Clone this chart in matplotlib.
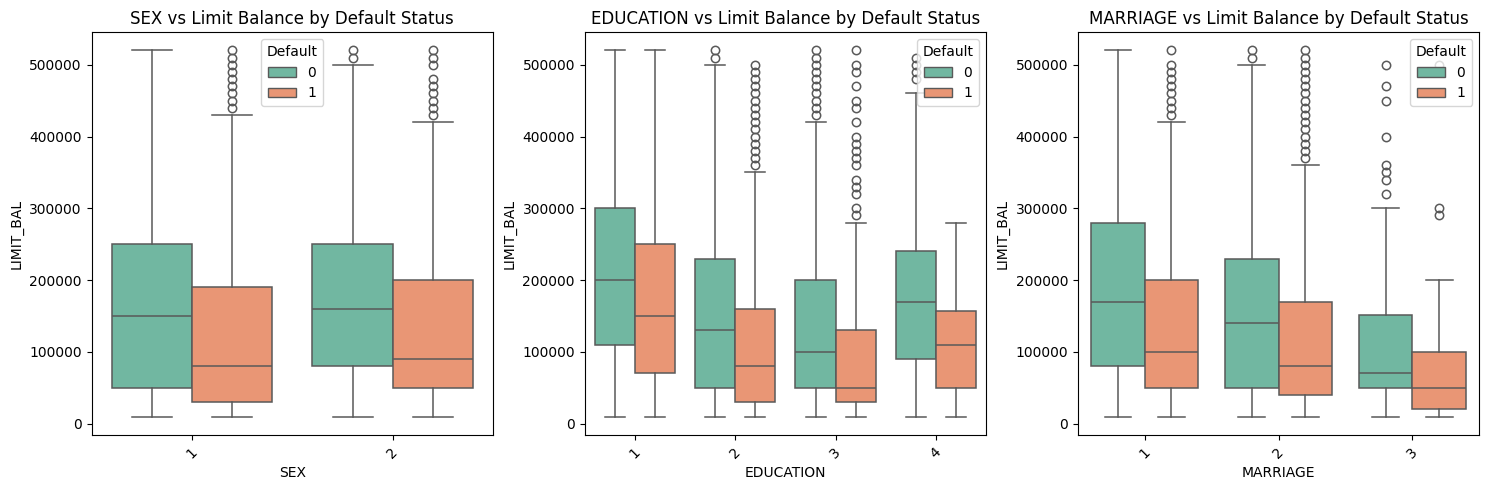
import matplotlib
matplotlib.use("Agg")
import matplotlib.pyplot as plt
from matplotlib.patches import Patch

# box stats per feature: one row per (category, default) = q1, median, q3, whisker low, whisker high
sex_cats = ['1', '2']
sex_d0 = [(50000, 150000, 250000, 10000, 520000), (80000, 160000, 250000, 10000, 500000)]
sex_d1 = [(30000, 80000, 190000, 10000, 430000), (50000, 90000, 200000, 10000, 420000)]
sex_fl0 = [[], [510000, 520000]]
sex_fl1 = [[440000, 450000, 460000, 470000, 480000, 490000, 500000, 510000, 520000],
           [430000, 440000, 450000, 460000, 470000, 480000, 500000, 510000, 520000]]

edu_cats = ['1', '2', '3', '4']
edu_d0 = [(110000, 200000, 300000, 10000, 520000), (50000, 130000, 230000, 10000, 500000),
          (50000, 100000, 200000, 10000, 420000), (90000, 170000, 240000, 10000, 460000)]
edu_d1 = [(70000, 150000, 250000, 10000, 520000), (30000, 80000, 160000, 10000, 350000),
          (30000, 50000, 130000, 10000, 280000), (50000, 110000, 157000, 10000, 280000)]
edu_fl0 = [[], [510000, 520000],
           [430000, 440000, 450000, 460000, 470000, 480000, 490000, 500000, 510000, 520000],
           [480000, 490000, 500000, 510000]]
edu_fl1 = [[],
           [360000, 370000, 380000, 390000, 400000, 410000, 420000, 430000, 440000, 450000,
            460000, 470000, 480000, 490000, 500000],
           [290000, 300000, 320000, 330000, 340000, 360000, 370000, 380000, 390000, 400000,
            420000, 440000, 450000, 470000, 490000, 500000, 520000],
           []]

mar_cats = ['1', '2', '3']
mar_d0 = [(80000, 170000, 280000, 10000, 520000), (50000, 140000, 230000, 10000, 500000),
          (50000, 70000, 152000, 10000, 300000)]
mar_d1 = [(50000, 100000, 200000, 10000, 420000), (40000, 80000, 170000, 10000, 360000),
          (20000, 50000, 100000, 10000, 200000)]
mar_fl0 = [[], [510000, 520000], [320000, 340000, 350000, 360000, 400000, 450000, 470000, 500000]]
mar_fl1 = [[430000, 440000, 450000, 460000, 470000, 480000, 490000, 500000, 520000],
           [370000, 380000, 390000, 400000, 410000, 420000, 430000, 440000, 450000, 460000,
            470000, 480000, 490000, 500000, 510000, 520000],
           [290000, 300000, 500000]]

colors = ['#71b7a1', '#e99675']
line_c = '#595959'


def make_stats(rows, fliers):
    out = []
    for (q1, med, q3, lo, hi), fl in zip(rows, fliers):
        out.append({'q1': q1, 'med': med, 'q3': q3, 'whislo': lo, 'whishi': hi, 'fliers': fl})
    return out


def draw(ax, name, cats, d0, d1, fl0, fl1, legend_loc):
    pos = list(range(len(cats)))
    for k, (rows, fl) in enumerate([(d0, fl0), (d1, fl1)]):
        off = -0.2 if k == 0 else 0.2
        ax.bxp(make_stats(rows, fl), positions=[p + off for p in pos], widths=0.4,
               capwidths=0.2, patch_artist=True, manage_ticks=False,
               boxprops=dict(facecolor=colors[k], edgecolor=line_c, linewidth=1.1),
               medianprops=dict(color=line_c, linewidth=1.1),
               whiskerprops=dict(color=line_c, linewidth=1.1),
               capprops=dict(color=line_c, linewidth=1.1),
               flierprops=dict(marker='o', markerfacecolor='none', markeredgecolor=line_c,
                               markersize=6, markeredgewidth=1.1))
    ax.set_xlim(-0.5, len(cats) - 0.5)
    ax.set_xticks(pos)
    ax.set_xticklabels(cats, rotation=45)
    ax.set_xlabel(name)
    ax.set_ylabel('LIMIT_BAL')
    ax.set_title(f'{name} vs Limit Balance by Default Status')
    handles = [Patch(facecolor=colors[0], edgecolor=line_c, label='0'),
               Patch(facecolor=colors[1], edgecolor=line_c, label='1')]
    ax.legend(handles=handles, title='Default', loc=legend_loc)


fig, axes = plt.subplots(1, 3, figsize=(14.89, 4.9), dpi=100)
draw(axes[0], 'SEX', sex_cats, sex_d0, sex_d1, sex_fl0, sex_fl1, 'upper center')
draw(axes[1], 'EDUCATION', edu_cats, edu_d0, edu_d1, edu_fl0, edu_fl1, 'upper right')
draw(axes[2], 'MARRIAGE', mar_cats, mar_d0, mar_d1, mar_fl0, mar_fl1, 'upper right')
plt.tight_layout(pad=0.7)
plt.savefig('out.png', dpi=100)
